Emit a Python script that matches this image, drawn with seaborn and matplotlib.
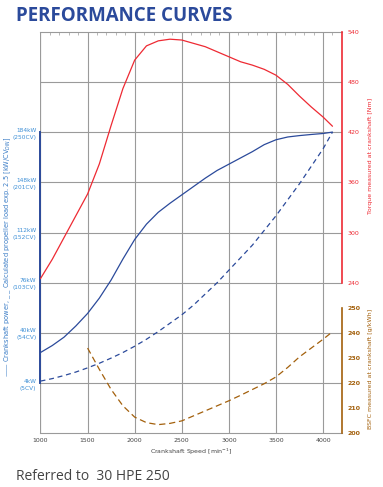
import numpy as np
import pandas as pd
import matplotlib
matplotlib.use("Agg")
import matplotlib.pyplot as plt
import seaborn as sns

#  Data
rpm_power = [1000, 1125, 1250, 1375, 1500, 1625, 1750, 1875, 2000, 2125, 2250, 2375, 2500,
             2625, 2750, 2875, 3000, 3125, 3250, 3375, 3500, 3625, 3750, 3875, 4000, 4100]
power_kw = [26, 31, 37, 45, 54, 65, 78, 93, 107, 118, 126.5, 133, 139,
            145, 151, 156.5, 161, 165.5, 170, 175, 178.5, 180.5, 181.5, 182.3, 183, 184]

rpm_prop = [1000, 1125, 1250, 1375, 1500, 1625, 1750, 1875, 2000, 2125, 2250, 2375, 2500,
            2625, 2750, 2875, 3000, 3125, 3250, 3375, 3500, 3625, 3750, 3875, 4000, 4100]
prop_kw = [5.5, 7.3, 9.5, 12, 15, 18.3, 22, 26, 30.5, 35.5, 41, 47, 53,
           60, 68, 76, 85, 94, 103, 113.5, 124, 135.5, 147, 159.5, 172, 184]

rpm_torque = [1000, 1125, 1250, 1375, 1500, 1625, 1750, 1875, 2000, 2125, 2250, 2375, 2500,
              2625, 2750, 2875, 3000, 3125, 3250, 3375, 3500, 3625, 3750, 3875, 4000, 4100]
torque_nm = [245, 268, 294, 320, 346, 382, 428, 472, 506, 523, 529, 531, 530,
             526, 522, 516, 510, 504, 500, 495, 488, 477, 463, 450, 438, 427]

rpm_bsfc = [1500, 1625, 1750, 1875, 2000, 2125, 2250, 2375, 2500, 2625, 2750, 2875,
            3000, 3125, 3250, 3375, 3500, 3625, 3750, 3875, 4000, 4100]
bsfc = [234, 225.5, 217.5, 211, 206.5, 204.3, 203.5, 204, 205, 207, 209, 211,
        213, 215.2, 217.5, 219.8, 222.5, 226.3, 230.5, 234, 237.5, 240.5]

kw_ticks = [4, 40, 76, 112, 148, 184]
cv_ticks = [5, 54, 103, 152, 201, 250]
torque_ticks = [240, 300, 360, 420, 480, 540]
bsfc_ticks = [200, 210, 220, 230, 240, 250]
rpm_ticks = [1000, 1500, 2000, 2500, 3000, 3500, 4000]

BLUE = "#2b4a9b"
LBLUE = "#3d8fd6"
RED = "#ee2a33"
BROWN = "#a3600c"
GRID = "#9a9a9a"

sns.set_style("white")
plt.rcParams["font.family"] = ["DejaVu Sans"]

fig = plt.figure(figsize=(3.83, 4.87), dpi=100)
ax = fig.add_axes([0.1057, 0.110, 0.787, 0.825])

# grid
ax.set_xlim(1000, 4200)
ax.set_ylim(-32, 256)
ax.set_xticks(rpm_ticks)
ax.set_yticks(kw_ticks + [220])
ax.grid(True, color=GRID, lw=0.8)
ax.set_axisbelow(True)
ax.set_yticklabels([f"{k}kW\n({c}CV)" for k, c in zip(kw_ticks, cv_ticks)] + [""],
                   color=LBLUE, fontsize=4.2, linespacing=1.5)
ax.set_xticklabels([str(t) for t in rpm_ticks], fontsize=4.5, color="#444444")
ax.tick_params(axis="both", length=0, pad=3)
ax.set_xticks(np.arange(1000, 4200, 100), minor=True)
ax.tick_params(axis="x", which="minor", top=True, bottom=False, direction="in",
               length=2, color=GRID, width=0.5)
ax.set_xlabel("Crankshaft Speed [min$^{-1}$]", fontsize=4.5, color="#444444", labelpad=3)
ax.set_ylabel("—— Crankshaft power, _ _ Calculated propeller load exp. 2.5 [kW/CV$_{DIN}$]",
              fontsize=4.8, color="#3a7cc6")
ax.yaxis.set_label_coords(-0.092, 0.44)

for s in ["top", "bottom"]:
    ax.spines[s].set_color(GRID)
    ax.spines[s].set_linewidth(0.8)
ax.spines["right"].set_visible(False)
ax.spines["left"].set_bounds(4, 184)
ax.spines["left"].set_color(BLUE)
ax.spines["left"].set_linewidth(1.4)
ax.axvline(1000, color=GRID, lw=0.8, zorder=0)

# power curves
sns.lineplot(x=rpm_power, y=power_kw, ax=ax, color=BLUE, lw=0.9)
sns.lineplot(x=rpm_prop, y=prop_kw, ax=ax, color=BLUE, lw=0.9, linestyle=(0, (4, 3)))

# torque axis
ax2 = ax.twinx()
ax2.set_ylim(60, 540)
sns.lineplot(x=rpm_torque, y=torque_nm, ax=ax2, color=RED, lw=0.9)
ax2.set_yticks(torque_ticks)
ax2.set_yticklabels([str(t) for t in torque_ticks], fontsize=4.5, color=RED)
ax2.tick_params(axis="y", length=0, pad=4)
for s in ["top", "bottom", "left"]:
    ax2.spines[s].set_visible(False)
ax2.spines["right"].set_bounds(240, 540)
ax2.spines["right"].set_color(RED)
ax2.spines["right"].set_linewidth(1.2)
ax2.set_ylabel("Torque measured at crankshaft [Nm]", fontsize=4.5, color=RED)
ax2.yaxis.set_label_coords(1.085, 0.69)

# bsfc axis
ax3 = ax.twinx()
ax3.set_ylim(200, 360)
sns.lineplot(x=rpm_bsfc, y=bsfc, ax=ax3, color=BROWN, lw=0.9, linestyle=(0, (5, 3)))
ax3.set_yticks(bsfc_ticks)
ax3.set_yticklabels([str(t) for t in bsfc_ticks], fontsize=4.5, color=BROWN, fontweight="bold")
ax3.tick_params(axis="y", length=0, pad=4)
for s in ["top", "bottom", "left"]:
    ax3.spines[s].set_visible(False)
ax3.spines["right"].set_bounds(200, 250)
ax3.spines["right"].set_color(BROWN)
ax3.spines["right"].set_linewidth(1.2)
ax3.set_ylabel("BSFC measured at crankshaft [g/kWh]", fontsize=4.5, color=BROWN)
ax3.yaxis.set_label_coords(1.085, 0.16)

fig.text(0.042, 0.968, "PERFORMANCE CURVES", fontsize=13.5, fontweight="bold",
         color=BLUE, family="Open Sans", va="center")
fig.text(0.042, 0.022, "Referred to  30 HPE 250", fontsize=10, color="#444444",
         family="Open Sans", va="center")

fig.savefig("out.png", dpi=100)
